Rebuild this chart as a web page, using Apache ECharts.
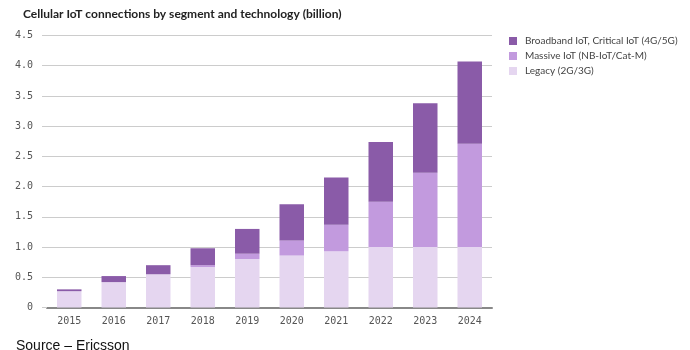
<!DOCTYPE html>
<html>
<head>
<meta charset="utf-8">
<script src="https://cdn.jsdelivr.net/npm/echarts@6/dist/echarts.min.js"></script>
<style>
  html, body { margin: 0; padding: 0; background: #fff; }
  #chart { width: 690px; height: 350px; }
</style>
</head>
<body>
<div id="chart"></div>
<script>
var years = ['2015', '2016', '2017', '2018', '2019', '2020', '2021', '2022', '2023', '2024'];
var legacy = [0.27, 0.42, 0.55, 0.67, 0.80, 0.86, 0.93, 1.00, 1.00, 1.00];
var massive = [0, 0, 0, 0.03, 0.09, 0.25, 0.44, 0.75, 1.23, 1.71];
var broadband = [0.03, 0.10, 0.15, 0.28, 0.41, 0.60, 0.78, 0.99, 1.15, 1.36];
var yTicks = ['0', '0.5', '1.0', '1.5', '2.0', '2.5', '3.0', '3.5', '4.0', '4.5'];

var chart = echarts.init(document.getElementById('chart'));

function bar(name, data, color) {
  return {
    name: name,
    type: 'bar',
    stack: 'total',
    barWidth: 24.5,
    itemStyle: { color: color },
    data: data
  };
}

var option = {
  animation: false,
  textStyle: { fontFamily: 'Lato' },
  title: [{
    text: 'Cellular IoT connections by segment and technology (billion)',
    left: 18,
    top: 3,
    textStyle: { fontFamily: 'Lato', fontWeight: 'bold', fontSize: 12, color: '#222' }
  }, {
    text: 'Source – Ericsson',
    left: 11,
    top: 334,
    textStyle: { fontFamily: 'Liberation Sans', fontWeight: 'normal', fontSize: 14, color: '#111' }
  }],
  legend: {
    orient: 'vertical',
    left: 504,
    top: 31,
    itemWidth: 8,
    itemHeight: 8,
    itemGap: 5,
    icon: 'rect',
    textStyle: { fontFamily: 'Lato', fontSize: 10, color: '#444', padding: [0, 0, 0, 3] },
    data: ['Broadband IoT, Critical IoT (4G/5G)', 'Massive IoT (NB-IoT/Cat-M)', 'Legacy (2G/3G)']
  },
  grid: { left: 47, right: 198, top: 35.5, bottom: 42.5 },
  xAxis: {
    type: 'category',
    data: years,
    axisLine: { lineStyle: { color: '#888', width: 2 } },
    axisTick: { show: false },
    axisLabel: { fontFamily: 'DejaVu Sans Mono', fontSize: 10, color: '#555', margin: 9 }
  },
  yAxis: {
    type: 'value',
    min: 0,
    max: 4.5,
    interval: 0.5,
    axisLine: { show: false },
    axisTick: { show: true, length: 5, lineStyle: { color: '#ccc' } },
    splitLine: { lineStyle: { color: '#ccc', width: 1 } },
    axisLabel: {
      fontFamily: 'DejaVu Sans Mono', fontSize: 10, color: '#555', margin: 14,
      formatter: function (v) { return yTicks[Math.round(v / 0.5)]; }
    }
  },
  series: [
    bar('Legacy (2G/3G)', legacy, '#e5d6f0'),
    bar('Massive IoT (NB-IoT/Cat-M)', massive, '#c29ade'),
    bar('Broadband IoT, Critical IoT (4G/5G)', broadband, '#8a5ba8')
  ]
};

chart.setOption(option);
</script>
</body>
</html>
